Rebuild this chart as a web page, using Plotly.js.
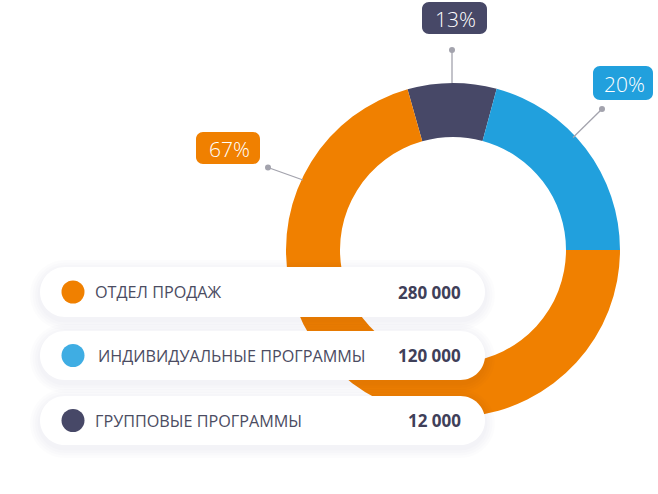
<!DOCTYPE html>
<html>
<head>
<meta charset="utf-8">
<script src="https://cdn.plot.ly/plotly-3.0.1.min.js"></script>
<style>html,body{margin:0;padding:0;background:#fff;}#chart{width:658px;height:494px;}</style>
</head>
<body>
<div id="chart"></div>
<script>
// ---- data ----
const categories = ['ОТДЕЛ ПРОДАЖ', 'ИНДИВИДУАЛЬНЫЕ ПРОГРАММЫ', 'ГРУППОВЫЕ ПРОГРАММЫ'];
const amounts = [280000, 120000, 12000];
const percentLabels = ['67%', '20%', '13%'];
// slice sizes as drawn in the picture (share of the ring, %)
const sliceShares = [70.6, 20.8, 8.6];
const sliceColors = ['#F08000', '#21A0DD', '#474867'];
const dotColors = ['#F08000', '#3FADE3', '#474867'];

// ---- helpers ----
const W = 658, H = 494;
const X = p => p / W;
const Y = p => 1 - p / H;
function fmt(n) { return String(n).replace(/\B(?=(\d{3})+(?!\d))/g, ' '); }
function P(x, y) { return X(x).toFixed(5) + ',' + Y(y).toFixed(5); }
function roundRect(x0, y0, x1, y1, r) {
  const k = r * 0.5523;
  return 'M' + P(x0 + r, y0) + ' L' + P(x1 - r, y0) +
    ' C' + P(x1 - r + k, y0) + ' ' + P(x1, y0 + r - k) + ' ' + P(x1, y0 + r) +
    ' L' + P(x1, y1 - r) +
    ' C' + P(x1, y1 - r + k) + ' ' + P(x1 - r + k, y1) + ' ' + P(x1 - r, y1) +
    ' L' + P(x0 + r, y1) +
    ' C' + P(x0 + r - k, y1) + ' ' + P(x0, y1 - r + k) + ' ' + P(x0, y1 - r) +
    ' L' + P(x0, y0 + r) +
    ' C' + P(x0, y0 + r - k) + ' ' + P(x0 + r - k, y0) + ' ' + P(x0 + r, y0) + ' Z';
}

// ---- donut ----
const cx = 453, cy = 250, R = 167;
const order = [2, 1, 0]; // drawn clockwise starting from the dark slice
const trace = {
  type: 'pie',
  values: order.map(i => sliceShares[i]),
  labels: order.map(i => categories[i]),
  marker: { colors: order.map(i => sliceColors[i]), line: { width: 0 } },
  hole: 113 / 167,
  sort: false,
  direction: 'clockwise',
  rotation: -15.8,
  textinfo: 'none',
  hoverinfo: 'none',
  showlegend: false,
  domain: { x: [X(cx - R), X(cx + R)], y: [Y(cy + R), Y(cy - R)] }
};

const shapes = [];
const annotations = [];
const FONT = 'Open Sans, Noto Sans, sans-serif';

// percent callouts
const callouts = [
  { box: [196, 132, 260, 164], dot: [268, 167.5], end: [303, 180] },
  { box: [593, 66, 653, 100], dot: [602, 109], end: [573, 137.5] },
  { box: [422, 2, 487, 34], dot: [452, 50], end: [452, 83] }
];
callouts.forEach((c, i) => {
  shapes.push({ type: 'line', xref: 'paper', yref: 'paper', layer: 'above',
    x0: X(c.dot[0]), y0: Y(c.dot[1]), x1: X(c.end[0]), y1: Y(c.end[1]),
    line: { color: '#A3A3AD', width: 1.3 } });
  shapes.push({ type: 'circle', xref: 'paper', yref: 'paper', layer: 'above',
    x0: X(c.dot[0] - 3), x1: X(c.dot[0] + 3), y0: Y(c.dot[1] + 3), y1: Y(c.dot[1] - 3),
    fillcolor: '#A3A3AD', line: { width: 0 } });
  shapes.push({ type: 'path', xref: 'paper', yref: 'paper', layer: 'above',
    path: roundRect(c.box[0], c.box[1], c.box[2], c.box[3], 7),
    fillcolor: sliceColors[i], line: { width: 0 } });
  annotations.push({ xref: 'paper', yref: 'paper', showarrow: false,
    x: X((c.box[0] + c.box[2]) / 2 + 1), y: Y((c.box[1] + c.box[3]) / 2 + 0.5),
    xanchor: 'center', yanchor: 'middle', text: percentLabels[i],
    font: { family: FONT, size: 21, color: '#ffffff', weight: 300 } });
});

// legend pills
const rows = [[267, 317], [331, 380], [396, 445]];
const pillX0 = 40, pillX1 = 485;
rows.forEach((r, i) => {
  const [t, b] = r;
  const rad = (b - t) / 2;
  for (let s = 4; s >= 1; s--) {
    const e = s * 2.5;
    shapes.push({ type: 'path', xref: 'paper', yref: 'paper', layer: 'above',
      path: roundRect(pillX0 - e, t - e + 3, pillX1 + e, b + e + 3, rad + e),
      fillcolor: 'rgba(30,30,60,0.011)', line: { width: 0 } });
  }
  shapes.push({ type: 'path', xref: 'paper', yref: 'paper', layer: 'above',
    path: roundRect(pillX0, t, pillX1, b, rad),
    fillcolor: '#ffffff', line: { width: 0 } });
  const my = (t + b) / 2;
  shapes.push({ type: 'circle', xref: 'paper', yref: 'paper', layer: 'above',
    x0: X(73 - 11.5), x1: X(73 + 11.5), y0: Y(my + 11.5), y1: Y(my - 11.5),
    fillcolor: dotColors[i], line: { width: 0 } });
  annotations.push({ xref: 'paper', yref: 'paper', showarrow: false,
    x: X(i === 1 ? 96 : 93), y: Y(my), xanchor: 'left', yanchor: 'middle',
    text: categories[i], font: { family: FONT, size: 16.2, color: '#4B4C62' } });
  annotations.push({ xref: 'paper', yref: 'paper', showarrow: false,
    x: X(463), y: Y(my), xanchor: 'right', yanchor: 'middle',
    text: '<b>' + fmt(amounts[i]) + '</b>', font: { family: FONT, size: 17, color: '#3F4059' } });
});

const layout = {
  width: W, height: H,
  margin: { l: 0, r: 0, t: 0, b: 0 },
  paper_bgcolor: '#ffffff',
  plot_bgcolor: '#ffffff',
  showlegend: false,
  shapes: shapes,
  annotations: annotations
};

Plotly.newPlot('chart', [trace], layout, { displayModeBar: false, staticPlot: true });
</script>
</body>
</html>
